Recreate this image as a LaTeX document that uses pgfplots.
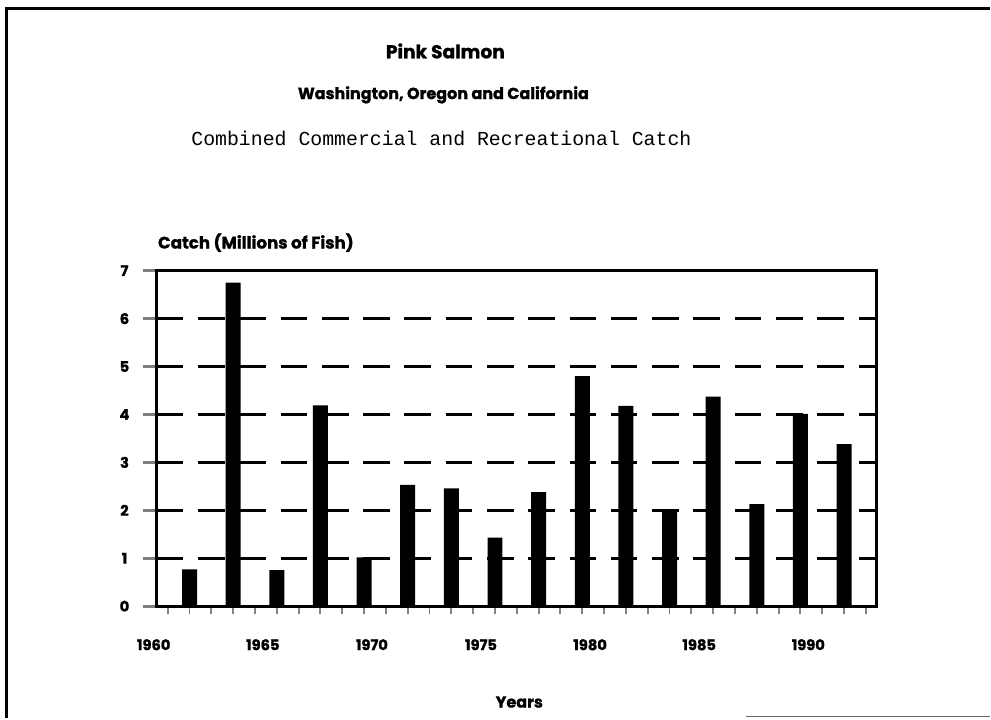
\documentclass[border=0pt]{standalone}
\usepackage{pgfplots}
\pgfplotsset{compat=1.18}
\usepackage{fontspec}
\setmainfont{Poppins}[BoldFeatures={FakeBold=1.2}]
\newfontfamily\monofont{Liberation Mono}

\begin{document}
\begin{tikzpicture}
% page frame, 991 x 719 px at 0.75pt per px
\path (0,0) rectangle (743.25pt,539.25pt);
\draw[line width=2pt] (5pt,0) -- (5pt,533pt) -- (743.25pt,533pt);
\draw[line width=1.2pt, black!60] (560pt,1pt) -- (743.25pt,1pt);

\begin{axis}[
    at={(117.75pt,84pt)},
    anchor=south west,
    scale only axis,
    width=540.75pt,
    height=252pt,
    xmin=1959.5, xmax=1992.5,
    ymin=0, ymax=7,
    xtick={1960,1965,...,1990},
    minor xtick={1960,...,1992},
    ytick={0,...,7},
    tick align=outside,
    xtick pos=bottom,
    ytick pos=left,
    axis line style={line width=2pt},
    xtick style={/pgfplots/major tick length=6pt, line width=1.4pt},
    minor tick length=6pt,
    every minor tick/.append style={line width=1.4pt},
    ytick style={/pgfplots/major tick length=10.5pt, line width=2.2pt},
    ymajorgrids,
    grid style={black, line width=2.2pt, dash pattern=on 20pt off 11pt},
    /pgf/number format/assume math mode=true,
    /pgf/number format/1000 sep={},
    ticklabel style={font=\bfseries\fontsize{11}{13}\selectfont},
    xticklabel style={anchor=north, xshift=-10.5pt, yshift=-17pt},
    yticklabel style={anchor=center, xshift=-20pt},
    ybar,
    bar width=11.25pt,
]
\addplot[fill=black, draw=none] coordinates {
    (1961,0.77) (1963,6.75) (1965,0.75) (1967,4.19)
    (1969,1.02) (1971,2.53) (1973,2.46) (1975,1.43)
    (1977,2.38) (1979,4.80) (1981,4.18) (1983,1.99)
    (1985,4.37) (1987,2.13) (1989,4.01) (1991,3.38)
};
\end{axis}

\node[font=\bfseries\fontsize{14}{16}\selectfont] at (334.5pt,501pt) {Pink Salmon};
\node[font=\bfseries\fontsize{12}{14}\selectfont] at (333pt,468pt) {Washington, Oregon and California};
\node[font=\monofont\fontsize{14.9}{17}\selectfont] at (331.5pt,435pt) {Combined Commercial and Recreational Catch};
\node[anchor=west, inner sep=0pt, font=\bfseries\fontsize{12.5}{14}\selectfont] at (118.5pt,357pt) {Catch (Millions of Fish)};
\node[font=\bfseries\fontsize{12}{14}\selectfont] at (390pt,12pt) {Years};
\end{tikzpicture}
\end{document}
